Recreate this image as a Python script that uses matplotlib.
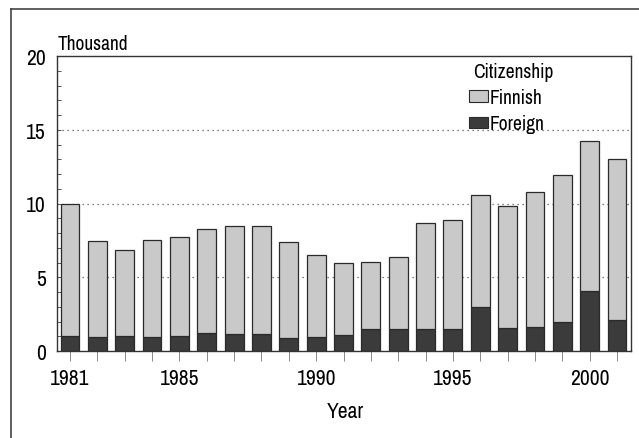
import matplotlib
matplotlib.use("Agg")
import matplotlib.pyplot as plt
from matplotlib import font_manager
from matplotlib.lines import Line2D
from matplotlib.patches import Patch
from matplotlib.ticker import MultipleLocator

# prefer a condensed sans face when one is installed
names = sorted({f.name for f in font_manager.fontManager.ttflist})
condensed = [n for n in names if "Narrow" in n or "Condensed" in n]
plt.rcParams['font.family'] = condensed[:1] + ['Liberation Sans', 'DejaVu Sans']
k = 1.0 if condensed else 0.85
fs_tick = 15.5 * k
fs_unit = 14 * k
fs_leg = 14 * k

years = list(range(1981, 2002))
total = [10.0, 7.45, 6.85, 7.5, 7.75, 8.3, 8.5, 8.45, 7.4, 6.5, 6.0,
         6.05, 6.4, 8.65, 8.9, 10.55, 9.8, 10.8, 11.9, 14.25, 13.05]
foreign = [1.0, 0.95, 1.0, 0.95, 1.0, 1.2, 1.15, 1.15, 0.9, 0.95, 1.1,
           1.5, 1.5, 1.5, 1.5, 3.0, 1.55, 1.65, 1.95, 4.1, 2.1]
finnish = [t - f for t, f in zip(total, foreign)]
year_labels = [1981, 1985, 1990, 1995, 2000]

light = "#c9c9c9"
dark = "#3b3b3b"
edge = "#2a2a2a"

fig = plt.figure(figsize=(6.39, 4.39), dpi=100)
ax = fig.add_axes([57/639, 1-352/439, (631-57)/639, (352-57)/439])

ax.bar(years, foreign, width=0.69, color=dark, edgecolor=edge, linewidth=0.9, zorder=3)
ax.bar(years, finnish, bottom=foreign, width=0.69, color=light, edgecolor=edge,
       linewidth=0.9, zorder=3)

ax.set_xlim(1981 - 0.475, 2001 + 0.51)
ax.set_ylim(0, 20)

for y in (5, 10, 15):
    ax.axhline(y, color="#555555", linestyle=(0, (1, 3)), linewidth=0.9, zorder=1)

ax.set_yticks([0, 5, 10, 15, 20])
ax.yaxis.set_minor_locator(MultipleLocator(1))
ax.tick_params(axis='y', which='both', direction='in', length=3, width=0.7,
               color="#555555", labelsize=fs_tick, pad=8)
ax.set_xticks(years)
ax.set_xticklabels([str(y) if y in year_labels else "" for y in years])
ax.tick_params(axis='x', direction='out', length=7, width=0.7, color="#888888",
               labelsize=fs_tick, pad=5)

for s in ax.spines.values():
    s.set_color("#333333")
    s.set_linewidth(1.0)

fig.text(58/639, 1-44/439, "Thousand", fontsize=fs_unit, va='center', ha='left')
fig.text(345/639, 1-412/439, "Year", fontsize=fs_tick, va='center', ha='center')

handles = [Patch(facecolor=light, edgecolor=edge, linewidth=0.8, label="Finnish"),
           Patch(facecolor=dark, edgecolor=edge, linewidth=0.8, label="Foreign")]
leg = ax.legend(handles=handles, title="Citizenship", loc='upper left',
                bbox_to_anchor=(0.69, 1.027), frameon=False, fontsize=fs_leg,
                title_fontsize=fs_leg, handlelength=1.0, handleheight=0.55,
                handletextpad=0.1, labelspacing=0.38, borderpad=0.2)
leg.get_title().set_position((6, 0))

# outer frame around the chart
fig.add_artist(Line2D([11/639, 11/639], [0, 1-10/439], transform=fig.transFigure,
                      color="#444444", linewidth=1.2))
fig.add_artist(Line2D([11/639, 1], [1-10/439, 1-10/439], transform=fig.transFigure,
                      color="#444444", linewidth=1.2))

fig.savefig("out.png", dpi=100)
